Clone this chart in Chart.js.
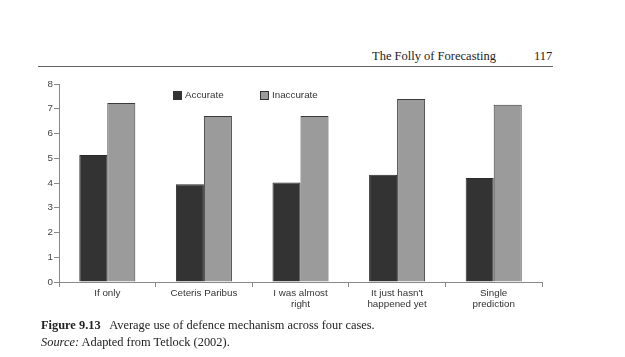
<!DOCTYPE html>
<html>
<head>
<meta charset="utf-8">
<script src="https://cdn.jsdelivr.net/npm/chart.js@4.4.0/dist/chart.umd.min.js"></script>
<style>
	html, body { margin: 0; padding: 0; background: #fff; }
	body { width: 625px; height: 357px; position: relative; overflow: hidden; }
	.serif { font-family: "Liberation Serif", "Times New Roman", serif; color: #222; position: absolute; white-space: nowrap; }
	#running { left: 372px; top: 49px; font-size: 12.5px; }
	#page { left: 534px; top: 49px; font-size: 12.5px; }
	#rule { position: absolute; left: 38px; top: 66px; width: 515px; height: 1px; background: #666; }
	#caption1 { left: 41px; top: 318px; font-size: 12.4px; }
	#caption2 { left: 41px; top: 335px; font-size: 12.4px; }
	#wrap { position: absolute; left: 0; top: 0; width: 625px; height: 357px; }
</style>
</head>
<body>
<div class="serif" id="running">The Folly of Forecasting</div>
<div class="serif" id="page">117</div>
<div id="rule"></div>
<div id="wrap"><canvas id="chart"></canvas></div>
<div class="serif" id="caption1"><b>Figure 9.13</b>&nbsp;&nbsp; Average use of defence mechanism across four cases.</div>
<div class="serif" id="caption2"><i>Source:</i> Adapted from Tetlock (2002).</div>

<script>
// Chart data
const categories = [
	"If only",
	"Ceteris Paribus",
	["I was almost", "right"],
	["It just hasn't", "happened yet"],
	["Single", "prediction"],
];
const accurate = [5.13, 3.95, 4.02, 4.33, 4.2];
const inaccurate = [7.23, 6.71, 6.71, 7.39, 7.16];
const yTicks = [0, 1, 2, 3, 4, 5, 6, 7, 8];

const tickFont = { family: "'Liberation Sans', Arial, sans-serif", size: 9.8 };

// Small legend drawn inside the plot area, like the printed figure
const insideLegend = {
	id: "insideLegend",
	afterDraw(chart, args, opts) {
		const ctx = chart.ctx;
		const area = chart.chartArea;
		ctx.save();
		ctx.font = "9.8px 'Liberation Sans', Arial, sans-serif";
		ctx.textBaseline = "middle";
		chart.data.datasets.forEach((ds, i) => {
			const x = area.left + opts.offsets[i];
			const y = area.top + opts.top;
			ctx.fillStyle = ds.backgroundColor;
			ctx.fillRect(x, y, 9, 9);
			ctx.strokeStyle = "#333";
			ctx.lineWidth = 1;
			ctx.strokeRect(x + 0.5, y + 0.5, 8, 8);
			ctx.fillStyle = "#333";
			ctx.fillText(ds.label, x + 12, y + 4);
		});
		ctx.restore();
	},
};

new Chart(document.getElementById("chart"), {
	type: "bar",
	data: {
		labels: categories,
		datasets: [
			{
				label: "Accurate",
				data: accurate,
				backgroundColor: "#333333",
				borderColor: "#2a2a2a",
				borderWidth: 1,
			},
			{
				label: "Inaccurate",
				data: inaccurate,
				backgroundColor: "#9b9b9b",
				borderColor: "#3a3a3a",
				borderWidth: 1,
			},
		],
	},
	options: {
		responsive: true,
		maintainAspectRatio: false,
		animation: false,
		devicePixelRatio: 1,
		layout: {
			padding: { left: 0, right: 83, top: 84, bottom: 45 },
		},
		datasets: {
			bar: { categoryPercentage: 0.58, barPercentage: 1 },
		},
		plugins: {
			legend: { display: false },
			tooltip: { enabled: false },
			insideLegend: { offsets: [114, 201], top: 7 },
		},
		scales: {
			x: {
				grid: {
					offset: true,
					drawOnChartArea: false,
					tickLength: 5,
					color: "#888",
				},
				border: { color: "#888", width: 1 },
				ticks: {
					font: tickFont,
					color: "#333",
					padding: 0,
					maxRotation: 0,
					autoSkip: false,
				},
				afterFit(scale) {
					scale.height = 30;
				},
			},
			y: {
				min: 0,
				max: 8,
				afterBuildTicks(scale) {
					scale.ticks = yTicks.map((v) => ({ value: v }));
				},
				grid: {
					drawOnChartArea: false,
					tickLength: 5,
					color: "#888",
				},
				border: { color: "#888", width: 1 },
				ticks: {
					font: tickFont,
					color: "#444",
					padding: 1,
				},
				afterFit(scale) {
					scale.width = 59;
				},
			},
		},
	},
	plugins: [insideLegend],
});
</script>
</body>
</html>
